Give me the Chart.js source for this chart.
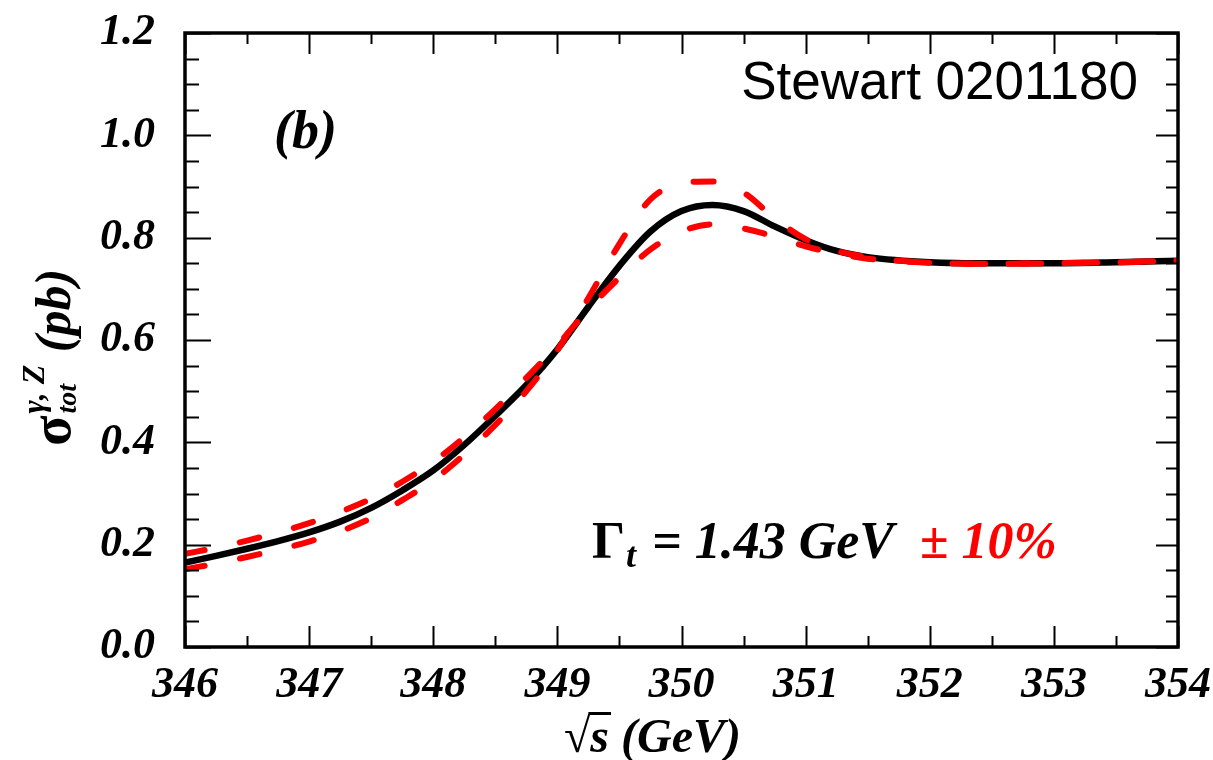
<!DOCTYPE html>
<html>
  <head>
    <meta charset="utf-8"/>
    <style>
      html, body { margin: 0; padding: 0; background: #fff; }
      #holder { width: 1213px; height: 760px; }
    </style>
  </head>
  <body>
    <div id="holder">
        <canvas id="chart-area" width="1213" height="760"></canvas>
    </div>

    <script src="https://cdn.jsdelivr.net/npm/chart.js@4.4.1/dist/chart.umd.min.js"></script>
    <script>
        // sqrt(s) in GeV
        var energy = [346, 346.25, 346.5, 346.75, 347, 347.25, 347.5, 347.75, 348, 348.25, 348.5, 348.75,
                      349, 349.25, 349.5, 349.75, 350, 350.25, 350.5, 350.75, 351, 351.25, 351.5,
                      352, 352.5, 353, 353.5, 354];
        // Gamma_t = 1.43 GeV
        var sigmaCentral = [0.165, 0.178, 0.192, 0.207, 0.224, 0.245, 0.272, 0.306, 0.345, 0.395, 0.452, 0.512,
                            0.582, 0.665, 0.745, 0.812, 0.852, 0.864, 0.852, 0.822, 0.795, 0.774, 0.762,
                            0.752, 0.750, 0.750, 0.752, 0.755];
        // Gamma_t - 10%
        var sigmaNarrow = [0.152, 0.163, 0.176, 0.190, 0.206, 0.226, 0.252, 0.287, 0.326, 0.376, 0.434, 0.500,
                           0.580, 0.682, 0.788, 0.875, 0.906, 0.910, 0.888, 0.838, 0.797, 0.774, 0.762,
                           0.751, 0.749, 0.750, 0.752, 0.755];
        // Gamma_t + 10%
        var sigmaWide = [0.182, 0.194, 0.208, 0.224, 0.242, 0.264, 0.290, 0.323, 0.362, 0.410, 0.465, 0.526,
                         0.590, 0.660, 0.722, 0.777, 0.812, 0.826, 0.818, 0.802, 0.783, 0.769, 0.759,
                         0.751, 0.749, 0.750, 0.752, 0.755];

        var xTicks = [346, 347, 348, 349, 350, 351, 352, 353, 354];
        var yTicks = [0.0, 0.2, 0.4, 0.6, 0.8, 1.0, 1.2];

        var serif = '"Liberation Serif", "Times New Roman", serif';

        var toPoints = function(xs, ys) {
            var pts = [];
            for (var i = 0; i < xs.length; i++) {
                pts.push({x: xs[i], y: ys[i]});
            }
            return pts;
        };

        // frame, inward ticks on all four sides, and the text labels
        var framePlugin = {
            id: 'frame',
            afterDatasetsDraw: function(chart) {
                var ctx = chart.ctx;
                var a = chart.chartArea;
                var xs = chart.scales.x, ys = chart.scales.y;
                ctx.save();
                ctx.strokeStyle = '#000';
                ctx.lineWidth = 2;
                var v, p, major;
                for (v = 346; v <= 354.001; v += 0.5) {
                    p = Math.round(xs.getPixelForValue(v)) + 0.5;
                    major = Math.abs(v - Math.round(v)) < 0.01;
                    ctx.beginPath();
                    ctx.moveTo(p, a.bottom); ctx.lineTo(p, a.bottom - (major ? 21 : 11));
                    ctx.moveTo(p, a.top); ctx.lineTo(p, a.top + (major ? 21 : 11));
                    ctx.stroke();
                }
                for (var k = 0; k <= 24; k++) {
                    v = k * 0.05;
                    p = Math.round(ys.getPixelForValue(v)) + 0.5;
                    major = (k % 4 === 0);
                    ctx.beginPath();
                    ctx.moveTo(a.left, p); ctx.lineTo(a.left + (major ? 26 : 14), p);
                    ctx.moveTo(a.right, p); ctx.lineTo(a.right - (major ? 22 : 12), p);
                    ctx.stroke();
                }
                ctx.lineWidth = 3.5;
                ctx.strokeRect(a.left, a.top, a.right - a.left, a.bottom - a.top);

                // (b)
                ctx.fillStyle = '#000';
                ctx.textBaseline = 'alphabetic';
                ctx.textAlign = 'left';
                ctx.font = 'italic bold 54px ' + serif;
                ctx.fillText('(b)', 274, 148);

                // Stewart 0201180
                ctx.font = '53px "Liberation Sans", Arial, sans-serif';
                ctx.textAlign = 'right';
                ctx.fillText('Stewart 0201180', 1138, 99);

                // Gamma_t = 1.43 GeV  +- 10%
                ctx.textAlign = 'left';
                var x0 = 592, base = 558;
                ctx.font = 'bold 52px ' + serif;
                ctx.fillText('\u0393', x0, base);
                x0 += ctx.measureText('\u0393').width;
                ctx.font = 'italic bold 36px ' + serif;
                ctx.fillText('t', x0 + 1, base + 9);
                x0 += ctx.measureText('t').width + 4;
                ctx.font = 'italic bold 52px ' + serif;
                ctx.fillText(' = 1.43 GeV', x0, base);
                x0 += ctx.measureText(' = 1.43 GeV  ').width;
                ctx.fillStyle = '#ff0000';
                ctx.fillText('\u00b1 10%', x0, base);

                // x axis title: sqrt(s) (GeV)
                ctx.fillStyle = '#000';
                ctx.font = 'bold 48px ' + serif;
                var tx = 564, tb = 752;
                ctx.fillText('\u221a', tx, tb);
                var rw = ctx.measureText('\u221a').width;
                ctx.font = 'italic bold 48px ' + serif;
                var sw = ctx.measureText('s').width;
                ctx.fillText('s', tx + rw, tb);
                ctx.lineWidth = 3;
                ctx.beginPath();
                ctx.moveTo(tx + rw - 2, 713.5); ctx.lineTo(tx + rw + sw + 2, 713.5);
                ctx.stroke();
                ctx.fillText(' (GeV)', tx + rw + sw, tb);

                // y axis title: sigma^{gamma,Z}_{tot} (pb)
                ctx.save();
                ctx.translate(70, 446);
                ctx.rotate(-Math.PI / 2);
                ctx.textAlign = 'left';
                ctx.font = 'bold 56px ' + serif;
                ctx.fillText('\u03c3', 0, 0);
                var sx = ctx.measureText('\u03c3').width + 2;
                ctx.font = 'italic bold 32px ' + serif;
                ctx.fillText('\u03b3, Z', sx, -26);
                var w1 = ctx.measureText('\u03b3, Z').width;
                ctx.font = 'italic bold 28px ' + serif;
                ctx.fillText('tot', sx, 6);
                var w2 = ctx.measureText('tot').width;
                ctx.font = 'italic bold 50px ' + serif;
                ctx.fillText(' (pb)', sx + Math.max(w1, w2), 0);
                ctx.restore();

                ctx.restore();
            }
        };

        var ctx = document.getElementById('chart-area').getContext('2d');
        var chart = new Chart(ctx, {
            type: 'line',
            data: {
                datasets: [{
                    label: 'Gamma_t - 10%',
                    data: toPoints(energy, sigmaNarrow),
                    borderColor: '#ff0000',
                    borderWidth: 6,
                    borderDash: [20, 36],
                    borderCapStyle: 'round',
                    order: 1
                }, {
                    label: 'Gamma_t + 10%',
                    data: toPoints(energy, sigmaWide),
                    borderColor: '#ff0000',
                    borderWidth: 6,
                    borderDash: [20, 36],
                    borderCapStyle: 'round',
                    order: 1
                }, {
                    label: 'Gamma_t = 1.43 GeV',
                    data: toPoints(energy, sigmaCentral),
                    borderColor: '#000000',
                    borderWidth: 6.5,
                    order: 2
                }]
            },
            options: {
                responsive: false,
                animation: false,
                events: [],
                layout: { padding: { top: 33, right: 35, left: 0, bottom: 0 } },
                elements: {
                    point: { radius: 0 },
                    line: { cubicInterpolationMode: 'monotone', fill: false }
                },
                plugins: {
                    legend: { display: false },
                    tooltip: { enabled: false }
                },
                scales: {
                    x: {
                        type: 'linear',
                        min: 346,
                        max: 354,
                        afterBuildTicks: function(scale) {
                            scale.ticks = xTicks.map(function(v) { return {value: v}; });
                        },
                        afterFit: function(scale) {
                            scale.height = 113;
                            scale.paddingLeft = 0; scale.paddingRight = 0;
                        },
                        grid: { display: false, drawTicks: false },
                        border: { display: false },
                        ticks: {
                            padding: 12,
                            maxRotation: 0,
                            color: '#000',
                            font: { family: serif, size: 44, style: 'italic', weight: 'bold' },
                            callback: function(v) { return v.toFixed(0); }
                        }
                    },
                    y: {
                        min: 0,
                        max: 1.2,
                        afterBuildTicks: function(scale) {
                            scale.ticks = yTicks.map(function(v) { return {value: v}; });
                        },
                        afterFit: function(scale) {
                            scale.width = 185;
                            scale.paddingTop = 0; scale.paddingBottom = 0;
                        },
                        grid: { display: false, drawTicks: false },
                        border: { display: false },
                        ticks: {
                            padding: 30,
                            color: '#000',
                            font: { family: serif, size: 44, style: 'italic', weight: 'bold' },
                            callback: function(v) { return v.toFixed(1); }
                        }
                    }
                }
            },
            plugins: [framePlugin]
        });
    </script>
    </body>
</html>
